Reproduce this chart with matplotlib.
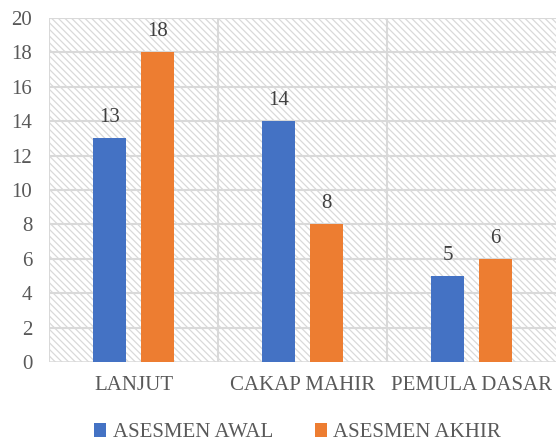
import numpy as np
import matplotlib.pyplot as plt
from matplotlib.patches import Rectangle

categories = ["LANJUT", "CAKAP MAHIR", "PEMULA DASAR"]
awal = [13, 14, 5]
akhir = [18, 8, 6]
series_names = ["ASESMEN AWAL", "ASESMEN AKHIR"]

plt.rcParams['font.family'] = ['Liberation Serif', 'DejaVu Serif']
plt.rcParams['hatch.linewidth'] = 0.9
plt.rcParams['hatch.color'] = '#d9d9d9'

fs = 15

fig = plt.figure(figsize=(5.56, 4.44), dpi=100)
ax = fig.add_axes([0.0881, 0.1847, 0.9119, 0.7748])

# hatched background
bg = Rectangle((0, 0), 1, 1, transform=ax.transAxes, facecolor='white',
               edgecolor='#d9d9d9', hatch='\\\\\\\\\\', linewidth=0, zorder=0)
ax.add_patch(bg)

x = np.arange(len(categories))
w = 0.2
off = 0.142
b1 = ax.bar(x - off, awal, w, color='#4472C4', label=series_names[0], zorder=3)
b2 = ax.bar(x + off, akhir, w, color='#ED7D31', label=series_names[1], zorder=3)

for bars in (b1, b2):
    for b in bars:
        ax.annotate(str(int(b.get_height())), (b.get_x() + b.get_width() / 2, b.get_height()),
                    xytext=(0, 8), textcoords='offset points', ha='center', va='bottom',
                    fontsize=fs, color='#404040', zorder=4)

ax.set_xlim(-0.5, 2.5)
ax.set_ylim(0, 20)
ax.set_yticks(range(0, 21, 2))
ax.set_xticks(x)
ax.set_xticklabels(categories)
ax.tick_params(axis='both', length=0, labelsize=fs, labelcolor='#595959')
ax.tick_params(axis='y', pad=12)
ax.tick_params(axis='x', pad=10)

for yv in range(2, 21, 2):
    ax.axhline(yv, color='#d9d9d9', linewidth=1.5, zorder=1)
for xv in (0.5, 1.5):
    ax.axvline(xv, color='#d9d9d9', linewidth=1.5, zorder=1)

for s in ax.spines.values():
    s.set_visible(False)
ax.axhline(0, color='#d9d9d9', linewidth=1.8, zorder=2)
ax.axvline(-0.5, color='#d9d9d9', linewidth=1.5, zorder=1)

fig.legend(handles=[b1, b2], labels=series_names, loc='center', ncol=2,
           bbox_to_anchor=(0.535, 0.025), frameon=False, fontsize=fs,
           handlelength=0.6, handleheight=0.6, handletextpad=0.3, columnspacing=2.0,
           labelcolor='#595959', borderpad=0.2)

fig.savefig('out.png', dpi=100)
